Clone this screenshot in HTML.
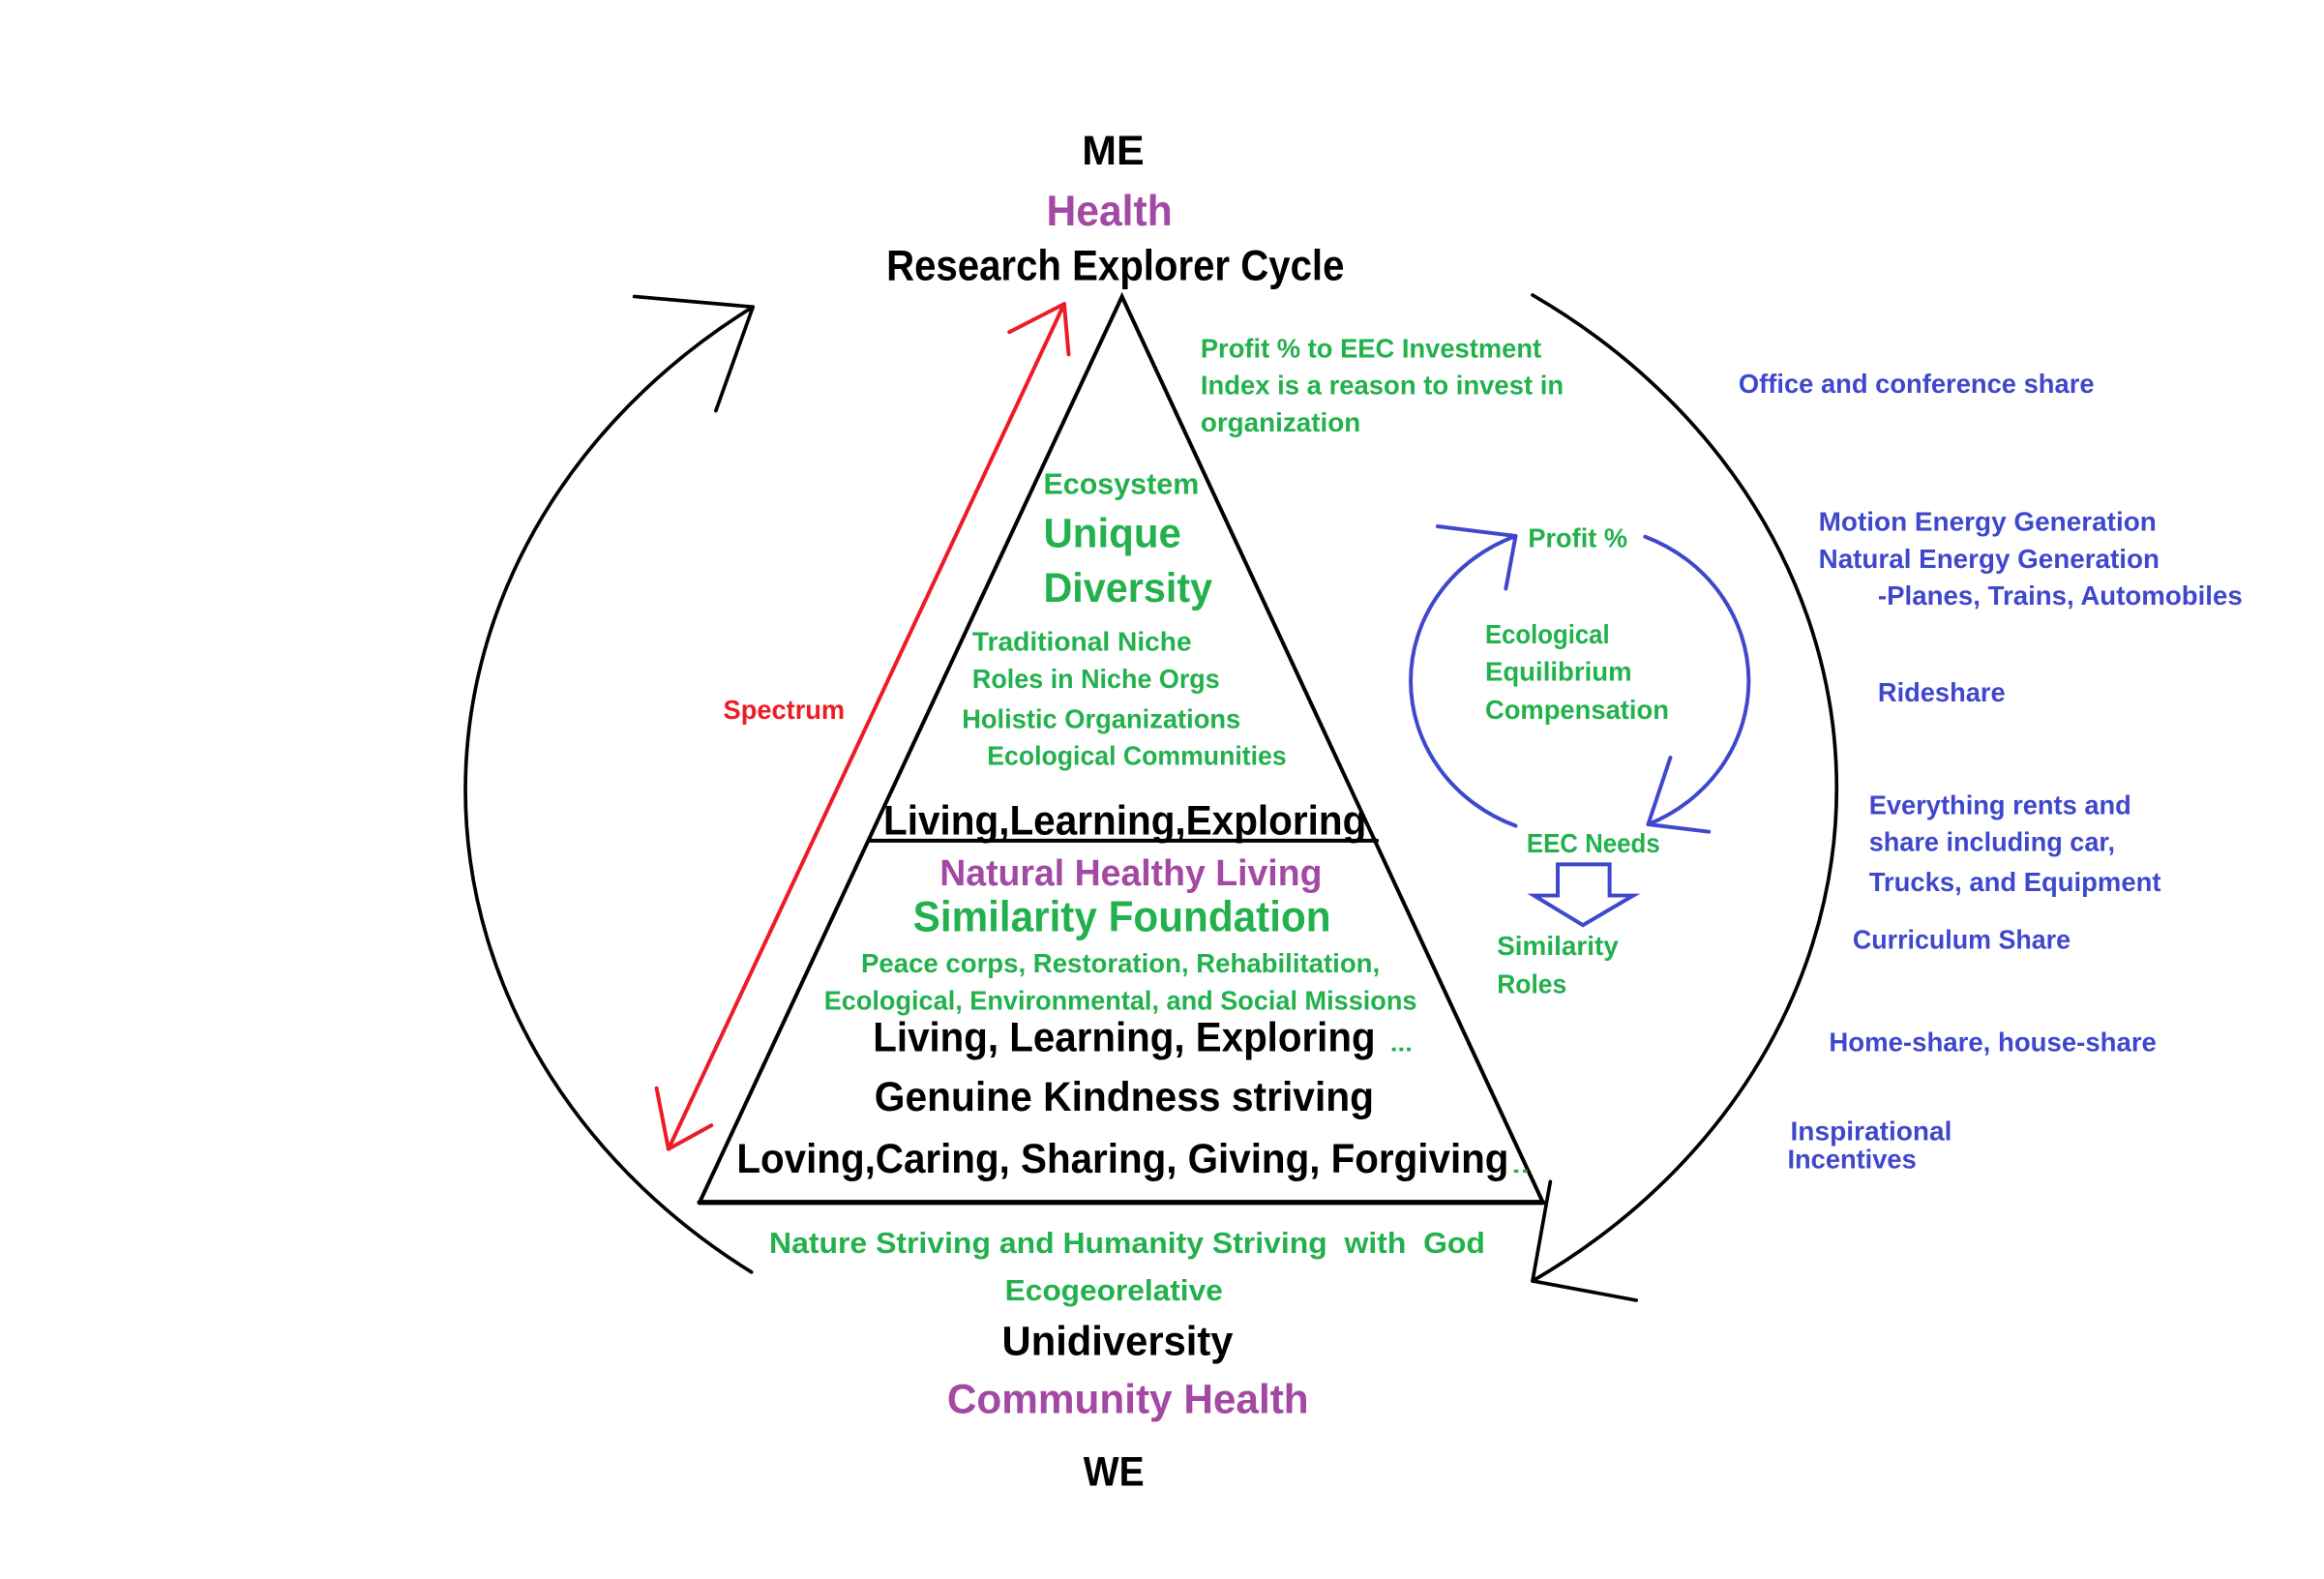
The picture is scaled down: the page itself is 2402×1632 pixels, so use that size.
<!DOCTYPE html>
<html>
<head>
<meta charset="utf-8">
<style>
  html, body { margin:0; padding:0; background:#ffffff; }
  body { width:2402px; height:1632px; overflow:hidden; }
  svg { display:block; }
  text { font-family: "Liberation Sans", "DejaVu Sans", sans-serif; font-weight: bold; }
  .k { fill:#000000; }
  .g { fill:#22b14c; }
  .p { fill:#a349a4; }
  .b { fill:#3f48cc; }
  .r { fill:#ed1c24; }
</style>
</head>
<body>
<svg width="2402" height="1632" viewBox="0 0 1568 1065" preserveAspectRatio="none" xmlns="http://www.w3.org/2000/svg">
  <rect x="0" y="0" width="1568" height="1065" fill="#ffffff"/>

  <!-- Big black cycle arcs -->
  <g fill="none" stroke="#000" stroke-width="2.4" stroke-linecap="round" stroke-linejoin="round">
    <path d="M 508 207 A 462 400 0 0 0 507 858"/>
    <polyline points="428,200 508,207 483,277"/>
    <path d="M 1034 199 A 462 400 0 0 1 1034 864"/>
    <polyline points="1046,797 1034,864 1104,877"/>
  </g>

  <!-- Triangle -->
  <g fill="none" stroke="#000" stroke-linecap="round" stroke-linejoin="miter">
    <polyline points="472,811 757,200 1041,811" stroke-width="2.6"/>
    <line x1="472" y1="811" x2="1041" y2="811" stroke-width="3.4"/>
    <line x1="587" y1="567" x2="929" y2="567" stroke-width="2.6"/>
  </g>

  <!-- Red spectrum arrow -->
  <g fill="none" stroke="#ed1c24" stroke-width="2.6" stroke-linecap="round" stroke-linejoin="round">
    <line x1="718" y1="205" x2="451" y2="775"/>
    <polyline points="681,224 718,205 721,239"/>
    <polyline points="443,734 451,775 480,759"/>
  </g>

  <!-- Blue inner cycle -->
  <g fill="none" stroke="#3f48cc" stroke-width="2.6" stroke-linecap="round" stroke-linejoin="round">
    <path d="M 1022.6 361.5 A 111.5 105 0 0 0 1022.6 557"/>
    <polyline points="970,355 1022.6,361.5 1016,397"/>
    <path d="M 1110 362 A 111.5 105 0 0 1 1112 556"/>
    <polyline points="1127,511 1112,556 1153,561"/>
    <polygon points="1051,583 1086,583 1086,604 1102,604 1068,624 1035,604 1051,604" stroke-linejoin="miter"/>
  </g>

  <!-- Top labels -->
  <text class="k" x="730" y="111" font-size="28" textLength="42" lengthAdjust="spacingAndGlyphs">ME</text>
  <text class="p" x="706" y="152" font-size="29" textLength="85" lengthAdjust="spacingAndGlyphs">Health</text>
  <text class="k" x="598" y="189" font-size="29" textLength="309" lengthAdjust="spacingAndGlyphs">Research Explorer Cycle</text>

  <!-- Profit note -->
  <text class="g" x="810" y="241" font-size="18" textLength="230" lengthAdjust="spacingAndGlyphs">Profit % to EEC Investment</text>
  <text class="g" x="810" y="266" font-size="18" textLength="245" lengthAdjust="spacingAndGlyphs">Index is a reason to invest in</text>
  <text class="g" x="810" y="291" font-size="18" textLength="108" lengthAdjust="spacingAndGlyphs">organization</text>

  <!-- Upper triangle -->
  <text class="g" x="704" y="333" font-size="20" textLength="105" lengthAdjust="spacingAndGlyphs">Ecosystem</text>
  <text class="g" x="704" y="369" font-size="28" textLength="93" lengthAdjust="spacingAndGlyphs">Unique</text>
  <text class="g" x="704" y="406" font-size="28" textLength="114" lengthAdjust="spacingAndGlyphs">Diversity</text>
  <text class="g" x="656" y="439" font-size="18" textLength="148" lengthAdjust="spacingAndGlyphs">Traditional Niche</text>
  <text class="g" x="656" y="464" font-size="18" textLength="167" lengthAdjust="spacingAndGlyphs">Roles in Niche Orgs</text>
  <text class="g" x="649" y="491" font-size="18" textLength="188" lengthAdjust="spacingAndGlyphs">Holistic Organizations</text>
  <text class="g" x="666" y="516" font-size="18" textLength="202" lengthAdjust="spacingAndGlyphs">Ecological Communities</text>
  <text class="k" x="596" y="563" font-size="28" textLength="326" lengthAdjust="spacingAndGlyphs">Living,Learning,Exploring</text>

  <!-- Lower triangle -->
  <text class="p" x="634" y="597" font-size="25" textLength="258" lengthAdjust="spacingAndGlyphs">Natural Healthy Living</text>
  <text class="g" x="616" y="628" font-size="29" textLength="282" lengthAdjust="spacingAndGlyphs">Similarity Foundation</text>
  <text class="g" x="581" y="656" font-size="18" textLength="350" lengthAdjust="spacingAndGlyphs">Peace corps, Restoration, Rehabilitation,</text>
  <text class="g" x="556" y="681" font-size="18" textLength="400" lengthAdjust="spacingAndGlyphs">Ecological, Environmental, and Social Missions</text>
  <text class="k" x="589" y="709" font-size="28" textLength="339" lengthAdjust="spacingAndGlyphs">Living, Learning, Exploring</text>
  <text class="g" x="938" y="709" font-size="16" textLength="15" lengthAdjust="spacingAndGlyphs">...</text>
  <text class="k" x="590" y="749" font-size="28" textLength="337" lengthAdjust="spacingAndGlyphs">Genuine Kindness striving</text>
  <text class="k" x="497" y="791" font-size="28" textLength="521" lengthAdjust="spacingAndGlyphs">Loving,Caring, Sharing, Giving, Forgiving</text>
  <text class="g" x="1020" y="791" font-size="14" textLength="12" lengthAdjust="spacingAndGlyphs">..</text>

  <!-- Bottom labels -->
  <text class="g" x="519" y="845" font-size="20" textLength="483" lengthAdjust="spacingAndGlyphs">Nature Striving and Humanity Striving&#160; with&#160; God</text>
  <text class="g" x="678" y="877" font-size="20" textLength="147" lengthAdjust="spacingAndGlyphs">Ecogeorelative</text>
  <text class="k" x="676" y="914" font-size="28" textLength="156" lengthAdjust="spacingAndGlyphs">Unidiversity</text>
  <text class="p" x="639" y="953" font-size="28" textLength="244" lengthAdjust="spacingAndGlyphs">Community Health</text>
  <text class="k" x="731" y="1002" font-size="28" textLength="41" lengthAdjust="spacingAndGlyphs">WE</text>

  <!-- Spectrum -->
  <text class="r" x="488" y="485" font-size="18" textLength="82" lengthAdjust="spacingAndGlyphs">Spectrum</text>

  <!-- Inner cycle labels -->
  <text class="g" x="1031" y="369" font-size="18" textLength="67" lengthAdjust="spacingAndGlyphs">Profit %</text>
  <text class="g" x="1002" y="434" font-size="18" textLength="84" lengthAdjust="spacingAndGlyphs">Ecological</text>
  <text class="g" x="1002" y="459" font-size="18" textLength="99" lengthAdjust="spacingAndGlyphs">Equilibrium</text>
  <text class="g" x="1002" y="485" font-size="18" textLength="124" lengthAdjust="spacingAndGlyphs">Compensation</text>
  <text class="g" x="1030" y="575" font-size="18" textLength="90" lengthAdjust="spacingAndGlyphs">EEC Needs</text>
  <text class="g" x="1010" y="644" font-size="18" textLength="82" lengthAdjust="spacingAndGlyphs">Similarity</text>
  <text class="g" x="1010" y="670" font-size="18" textLength="47" lengthAdjust="spacingAndGlyphs">Roles</text>

  <!-- Right blue list -->
  <text class="b" x="1173" y="265" font-size="18" textLength="240" lengthAdjust="spacingAndGlyphs">Office and conference share</text>
  <text class="b" x="1227" y="358" font-size="18" textLength="228" lengthAdjust="spacingAndGlyphs">Motion Energy Generation</text>
  <text class="b" x="1227" y="383" font-size="18" textLength="230" lengthAdjust="spacingAndGlyphs">Natural Energy Generation</text>
  <text class="b" x="1267" y="408" font-size="18" textLength="246" lengthAdjust="spacingAndGlyphs">-Planes, Trains, Automobiles</text>
  <text class="b" x="1267" y="473" font-size="18" textLength="86" lengthAdjust="spacingAndGlyphs">Rideshare</text>
  <text class="b" x="1261" y="549" font-size="18" textLength="177" lengthAdjust="spacingAndGlyphs">Everything rents and</text>
  <text class="b" x="1261" y="574" font-size="18" textLength="166" lengthAdjust="spacingAndGlyphs">share including car,</text>
  <text class="b" x="1261" y="601" font-size="18" textLength="197" lengthAdjust="spacingAndGlyphs">Trucks, and Equipment</text>
  <text class="b" x="1250" y="640" font-size="18" textLength="147" lengthAdjust="spacingAndGlyphs">Curriculum Share</text>
  <text class="b" x="1234" y="709" font-size="18" textLength="221" lengthAdjust="spacingAndGlyphs">Home-share, house-share</text>
  <text class="b" x="1208" y="769" font-size="18" textLength="109" lengthAdjust="spacingAndGlyphs">Inspirational</text>
  <text class="b" x="1206" y="788" font-size="18" textLength="87" lengthAdjust="spacingAndGlyphs">Incentives</text>
</svg>
</body>
</html>
